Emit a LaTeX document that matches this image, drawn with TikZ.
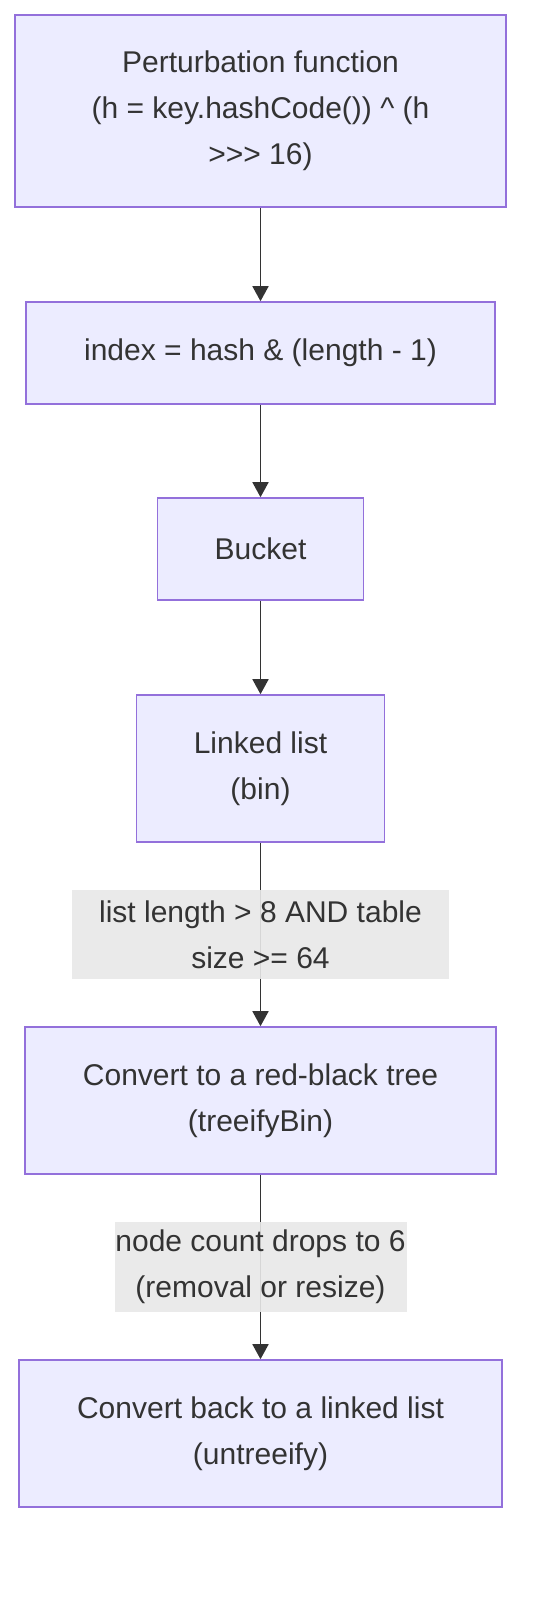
\documentclass[tikz,border=0pt]{standalone}
\usepackage{fontspec}
\setmainfont{Liberation Sans}[Ligatures=TeXOff]
\usetikzlibrary{arrows.meta}
\definecolor{boxfill}{HTML}{ECECFF}
\definecolor{boxline}{HTML}{9370DB}
\definecolor{ink}{HTML}{333333}
\definecolor{lblfill}{HTML}{E8E8E8}

\begin{document}
\begin{tikzpicture}[x=1pt,y=-1pt,
  box/.style={draw=boxline,fill=boxfill,line width=1.6pt,inner sep=0pt,
    align=center,text=ink,font=\fontsize{30}{46}\selectfont},
  lbl/.style={fill=lblfill,fill opacity=0.9,text opacity=1,inner sep=0pt,
    align=center,text=ink,font=\fontsize{30}{46}\selectfont},
  arr/.style={-{Triangle[length=15pt,width=16pt]},line width=1.6pt,draw=ink}]
  \useasboundingbox (0,0) rectangle (552,1612);
  \draw (260.5,111) node[box,minimum width=491pt,minimum height=192pt] (pert) {Perturbation function\\(h = key.hashCode()) \^{} (h\\>>> 16)};
  \draw (260.5,353) node[box,minimum width=469pt,minimum height=102pt] (index) {index = hash \& (length - 1)};
  \draw (260.5,549) node[box,minimum width=206pt,minimum height=102pt] (bucket) {Bucket};
  \draw (260.5,768.5) node[box,minimum width=248pt,minimum height=147pt] (linked) {Linked list\\(bin)};
  \draw (260.5,1100.5) node[box,minimum width=471pt,minimum height=147pt] (rbtree) {Convert to a red-black tree\\(treeifyBin)};
  \draw (260.5,1433.5) node[box,minimum width=483pt,minimum height=147pt] (untree) {Convert back to a linked list\\(untreeify)};
  \draw[arr] (pert) -- (index);
  \draw[arr] (index) -- (bucket);
  \draw[arr] (bucket) -- (linked);
  \draw[arr] (linked) -- node[lbl,minimum width=377pt,minimum height=89pt] (treeify) {list length > 8 AND table\\size >= 64} (rbtree);
  \draw[arr] (rbtree) -- node[lbl,minimum width=292pt,minimum height=90pt] (shrink) {node count drops to 6\\(removal or resize)} (untree);
 \end{tikzpicture}
\end{document}
